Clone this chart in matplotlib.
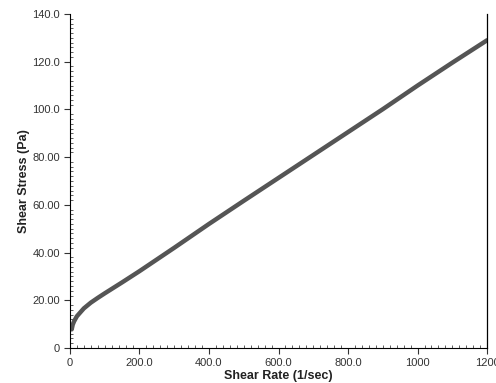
import matplotlib
matplotlib.use("Agg")
import matplotlib.pyplot as plt
from matplotlib.ticker import MultipleLocator, FixedLocator, FixedFormatter

shear_rate = [5, 8, 12, 20, 40, 60, 80, 100, 150, 200, 300, 400, 500, 600, 700, 800, 900, 1000, 1100, 1200]
shear_stress = [7.8, 9.8, 11.2, 13.3, 16.6, 19.0, 21.0, 22.9, 27.5, 32.2, 42.0, 52.0, 61.7, 71.3, 80.9, 90.5, 100.1, 110.0, 119.6, 129.0]

x_ticks = [0, 200, 400, 600, 800, 1000, 1200]
x_labels = ["0", "200.0", "400.0", "600.0", "800.0", "1000", "1200"]
y_ticks = [0, 20, 40, 60, 80, 100, 120, 140]
y_labels = ["0", "20.00", "40.00", "60.00", "80.00", "100.0", "120.0", "140.0"]

plt.rcParams['font.family'] = ['Liberation Sans', 'DejaVu Sans']

fig = plt.figure(figsize=(4.96, 3.83), dpi=100)
ax = fig.add_axes([0.141, 0.0914, 0.841, 0.872])

ax.plot(shear_rate, shear_stress, color='#555555', linewidth=3.2, solid_capstyle='round')

ax.set_xlim(0, 1200)
ax.set_ylim(0, 140)

ax.xaxis.set_major_locator(FixedLocator(x_ticks))
ax.xaxis.set_major_formatter(FixedFormatter(x_labels))
ax.yaxis.set_major_locator(FixedLocator(y_ticks))
ax.yaxis.set_major_formatter(FixedFormatter(y_labels))
ax.xaxis.set_minor_locator(MultipleLocator(20))
ax.yaxis.set_minor_locator(MultipleLocator(2))

ax.tick_params(which='major', direction='out', length=4, width=0.8, labelsize=8, colors='#333333', pad=3)
ax.tick_params(which='minor', direction='in', length=2.5, width=0.6, colors='#444444')
ax.tick_params(axis='y', which='major', pad=3)

ax.spines['top'].set_visible(False)
ax.spines['right'].set_linewidth(0.9)
ax.spines['left'].set_linewidth(0.8)
ax.spines['bottom'].set_linewidth(0.8)

ax.set_xlabel("Shear Rate (1/sec)", fontsize=9, fontweight='bold', color='#222222', labelpad=2)
ax.set_ylabel("Shear Stress (Pa)", fontsize=9, fontweight='bold', color='#222222', labelpad=2)

fig.savefig("out.png", dpi=100)
